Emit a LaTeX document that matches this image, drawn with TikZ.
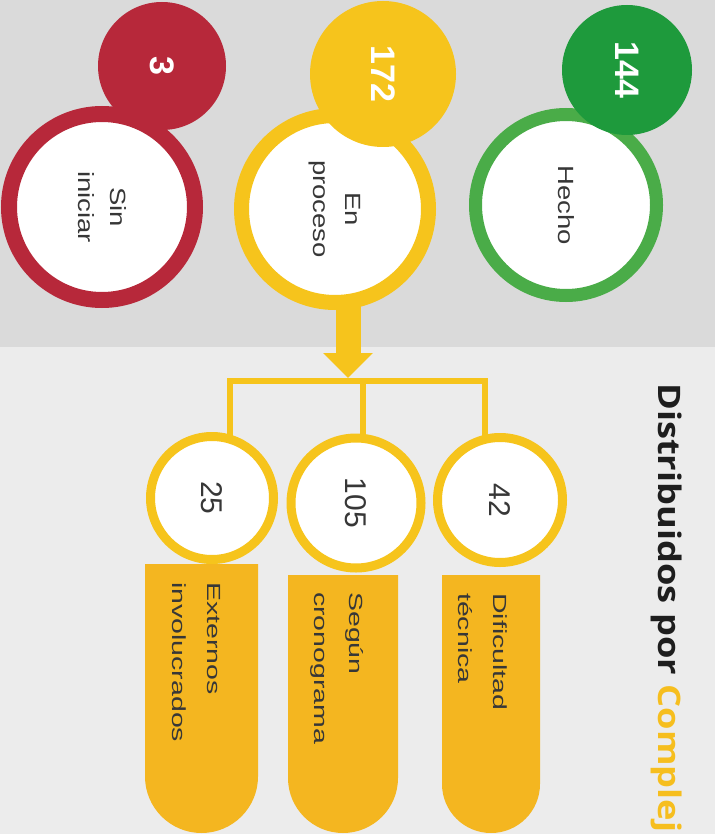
\documentclass[tikz,border=0pt]{standalone}
\usepackage{fontspec}
\usepackage{tikz}
\usetikzlibrary{arrows.meta,shapes,positioning}
\setmainfont{Liberation Sans}
\newfontfamily\ringfont[FakeStretch=1.25]{Liberation Sans}
\newfontfamily\tabfont[FakeStretch=1.5]{Liberation Sans}
\newfontfamily\titlefont[FakeStretch=1.17]{Open Sans}
\definecolor{sinred}{RGB}{183,40,58}
\definecolor{procyellow}{RGB}{246,196,28}
\definecolor{hechogreen}{RGB}{30,154,60}
\definecolor{hechoring}{RGB}{74,172,72}
\definecolor{tabyellow}{RGB}{244,182,32}
\definecolor{bgtop}{RGB}{218,218,218}
\definecolor{bgbottom}{RGB}{236,236,236}
\definecolor{labelgray}{RGB}{55,55,55}
\definecolor{titlegray}{RGB}{30,30,30}
\definecolor{complejyellow}{RGB}{246,190,30}
\tikzstyle{ring} = [circle, fill=white, line width=16pt, inner sep=0pt, align=center, rotate=-90, text=labelgray, font=\ringfont\fontsize{22}{32}\selectfont]
\tikzstyle{badge} = [circle, inner sep=0pt, rotate=-90, text=white, font=\bfseries\fontsize{34}{34}\selectfont]
\tikzstyle{sub} = [circle, draw=procyellow, fill=white, line width=9pt, inner sep=0pt, rotate=-90, text=labelgray, font=\fontsize{30}{30}\selectfont]
\tikzstyle{tabtext} = [rotate=-90, anchor=north west, inner sep=0pt, align=left, text=labelgray, font=\tabfont\fontsize{19}{35}\selectfont]
\tikzstyle{title} = [rotate=-90, anchor=base west, inner sep=0pt, text=titlegray, font=\titlefont\bfseries\fontsize{31}{31}\selectfont]
\tikzstyle{stem} = [line width=25pt, draw=procyellow, -{Triangle[width=48pt,length=25pt]}]
\tikzstyle{branch} = [line width=6.5pt, draw=procyellow]

\begin{document}
\begin{tikzpicture}[x=1pt, y=-1pt]
\useasboundingbox (0,0) rectangle (715,834);
% background
\fill[bgtop] (0,0) rectangle (715,347);
\fill[bgbottom] (0,347) rectangle (715,834);
% status rings (turned, so west is the top and east the bottom)
\node (sin) [ring, draw=sinred, minimum size=186pt] at (102,207) {Sin\\iniciar};
\node (proceso) [ring, draw=procyellow, line width=15pt, minimum size=187pt] at (335,209) {En\\proceso};
\node (hecho) [ring, draw=hechoring, line width=13pt, minimum size=181pt] at (566,205) {Hecho};
\node (nsin) [badge, fill=sinred, minimum size=128pt] at (162,66) {3};
\node (nproceso) [badge, fill=procyellow, minimum size=146pt] at (383,74) {172};
\node (nhecho) [badge, fill=hechogreen, minimum size=130pt] at (627,70) {144};
% split of "en proceso"
\coordinate (split) at (348,378);
\coordinate (d25) at (230,381);
\coordinate (d105) at (363,381);
\coordinate (d42) at (485,381);
\draw[stem, shorten <=-6pt] (proceso.east -| split) -- (split);
% tabs
\fill[tabyellow] (145,564) -- (145,776.5) arc[start angle=180, end angle=360, radius=56.5pt] -- (258,564) -- cycle;
\fill[tabyellow] (288,575) -- (288,778) arc[start angle=180, end angle=360, radius=55pt] -- (398,575) -- cycle;
\fill[tabyellow] (442,575) -- (442,784) arc[start angle=180, end angle=360, radius=49pt] -- (540,575) -- cycle;
\node (c25) [sub, minimum size=123pt] at (212,498) {25};
\node (c105) [sub, minimum size=130pt] at (356,503) {105};
\node (c42) [sub, minimum size=125pt] at (500,500) {42};
\draw[branch, shorten <=-4pt, shorten >=-4pt] (d25 |- c25.west) |- (d42) -- (d42 |- c42.west);
\draw[branch, shorten >=-4pt] (d105) -- (d105 |- c105.west);
\node (ext) [tabtext] at (221,582) {Externos\\involucrados};
\node (seg) [tabtext] at (364,592) {Según\\cronograma};
\node (dif) [tabtext] at (507,593) {Dificultad\\técnica};
% title
\node (titulo) [title] at (658,383) {Distribuidos por \textcolor{complejyellow}{Complej}};
\end{tikzpicture}
\end{document}
